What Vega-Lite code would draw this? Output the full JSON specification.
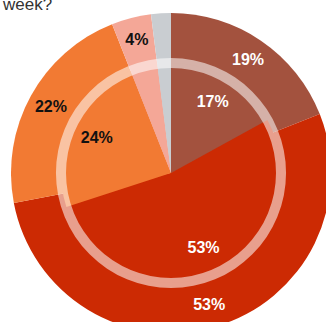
{
  "$schema": "https://vega.github.io/schema/vega-lite/v6.json",
  "width": 342,
  "height": 346,
  "autosize": {"type": "none"},
  "padding": 0,
  "background": "white",
  "config": {"view": {"stroke": null}},
  "title": {
    "text": "week?",
    "anchor": "start",
    "orient": "top",
    "offset": -27,
    "dx": 3,
    "font": "Liberation Sans",
    "fontSize": 17,
    "fontWeight": "normal",
    "color": "#333333",
    "baseline": "alphabetic"
  },
  "data": {
    "values": [
      {"ring": "outer", "cat": "c1", "order": 1, "value": 19, "label": "19%"},
      {"ring": "outer", "cat": "c2", "order": 2, "value": 53, "label": "53%"},
      {"ring": "outer", "cat": "c3", "order": 3, "value": 22, "label": "22%"},
      {"ring": "outer", "cat": "c4", "order": 4, "value": 4, "label": "4%"},
      {"ring": "outer", "cat": "c5", "order": 5, "value": 2, "label": ""},
      {"ring": "inner", "cat": "c1", "order": 1, "value": 17, "label": "17%"},
      {"ring": "inner", "cat": "c2", "order": 2, "value": 53, "label": "53%"},
      {"ring": "inner", "cat": "c3", "order": 3, "value": 24, "label": "24%"},
      {"ring": "inner", "cat": "c4", "order": 4, "value": 4, "label": ""},
      {"ring": "inner", "cat": "c5", "order": 5, "value": 2, "label": ""},
      {"ring": "ring", "cat": "ring", "order": 1, "value": 100, "label": ""}
    ]
  },
  "layer": [
    {
      "transform": [{"filter": "datum.ring === 'outer'"}],
      "mark": {"type": "arc", "outerRadius": 160, "innerRadius": 0, "stroke": null},
      "encoding": {
        "theta": {"field": "value", "type": "quantitative", "stack": true},
        "order": {"field": "order", "type": "quantitative"},
        "color": {"field": "cat", "type": "nominal", "legend": null,
          "scale": {"domain": ["c1", "c2", "c3", "c4", "c5"], "range": ["#A3523E", "#CC2A03", "#F27A33", "#F4A797", "#C9CDD1"]}}
      }
    },
    {
      "transform": [{"filter": "datum.ring === 'inner'"}],
      "mark": {"type": "arc", "outerRadius": 110, "innerRadius": 0, "stroke": null},
      "encoding": {
        "theta": {"field": "value", "type": "quantitative", "stack": true},
        "order": {"field": "order", "type": "quantitative"},
        "color": {"field": "cat", "type": "nominal", "legend": null}
      }
    },
    {
      "transform": [{"filter": "datum.ring === 'ring'"}],
      "mark": {"type": "arc", "outerRadius": 115, "innerRadius": 105, "fill": "white", "fillOpacity": 0.55, "stroke": null},
      "encoding": {
        "theta": {"field": "value", "type": "quantitative", "stack": true}
      }
    },
    {
      "transform": [{"filter": "datum.ring === 'outer'"}],
      "mark": {"type": "text", "radius": 137, "font": "Liberation Sans", "fontSize": 16, "fontWeight": "bold", "align": "center", "baseline": "middle"},
      "encoding": {
        "theta": {"field": "value", "type": "quantitative", "stack": true},
        "order": {"field": "order", "type": "quantitative"},
        "text": {"field": "label", "type": "nominal"},
        "color": {"condition": {"test": "datum.cat === 'c3' || datum.cat === 'c4'", "value": "#111111"}, "value": "white"}
      }
    },
    {
      "transform": [{"filter": "datum.ring === 'inner'"}],
      "mark": {"type": "text", "radius": 82, "font": "Liberation Sans", "fontSize": 16, "fontWeight": "bold", "align": "center", "baseline": "middle"},
      "encoding": {
        "theta": {"field": "value", "type": "quantitative", "stack": true},
        "order": {"field": "order", "type": "quantitative"},
        "text": {"field": "label", "type": "nominal"},
        "color": {"condition": {"test": "datum.cat === 'c3' || datum.cat === 'c4'", "value": "#111111"}, "value": "white"}
      }
    }
  ]
}
